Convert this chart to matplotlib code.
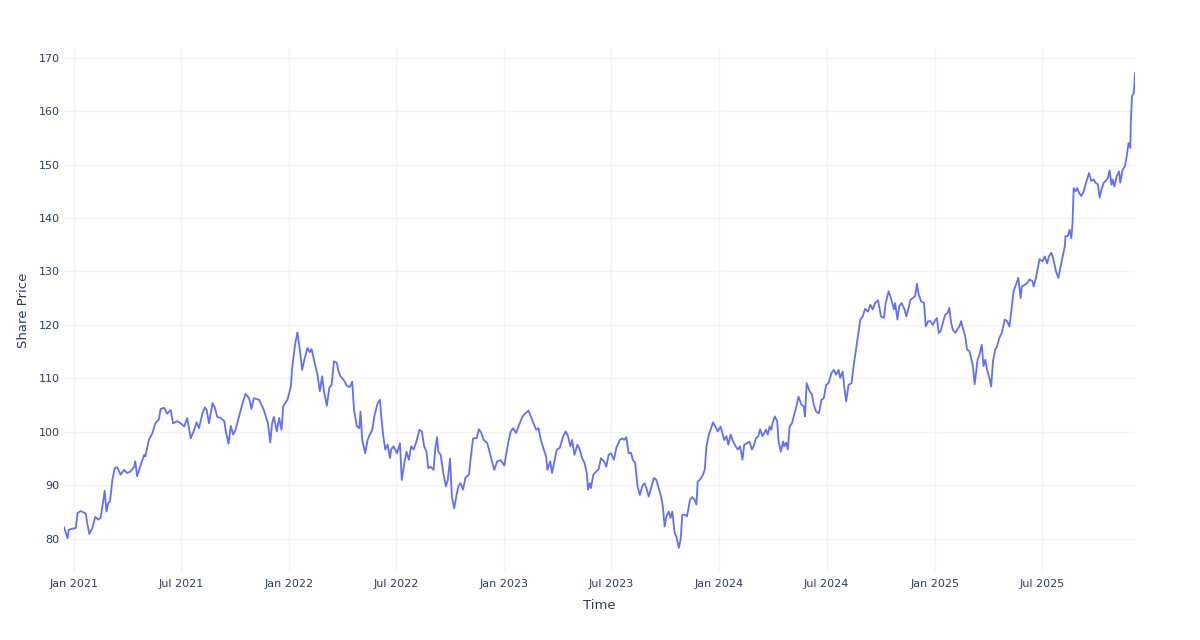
import matplotlib
matplotlib.use("Agg")
import matplotlib.pyplot as plt
import matplotlib.dates as mdates
import numpy as np
import pandas as pd

# Share price readings (irregular spacing)
dates = [
    "2020-12-15", "2020-12-21", "2020-12-23", "2020-12-29", "2021-01-04", "2021-01-07",
    "2021-01-12", "2021-01-18", "2021-01-21", "2021-01-23", "2021-01-27", "2021-02-01",
    "2021-02-06", "2021-02-11", "2021-02-15", "2021-02-19", "2021-02-22", "2021-02-25",
    "2021-02-28", "2021-03-03", "2021-03-07", "2021-03-11", "2021-03-15", "2021-03-21",
    "2021-03-27", "2021-04-01", "2021-04-07", "2021-04-13", "2021-04-15", "2021-04-18",
    "2021-04-24", "2021-04-30", "2021-05-02", "2021-05-08", "2021-05-14", "2021-05-19",
    "2021-05-25", "2021-05-28", "2021-06-03", "2021-06-08", "2021-06-14", "2021-06-18",
    "2021-06-25", "2021-07-01", "2021-07-07", "2021-07-12", "2021-07-18", "2021-07-24",
    "2021-07-28", "2021-08-01",
    "2021-08-07", "2021-08-11", "2021-08-14", "2021-08-18", "2021-08-24", "2021-08-28",
    "2021-09-01", "2021-09-07", "2021-09-13", "2021-09-15", "2021-09-20", "2021-09-24",
    "2021-09-28", "2021-10-02", "2021-10-08", "2021-10-14", "2021-10-19", "2021-10-25",
    "2021-10-29", "2021-11-02", "2021-11-11", "2021-11-19", "2021-11-26", "2021-11-30",
    "2021-12-03", "2021-12-06", "2021-12-11", "2021-12-15", "2021-12-19", "2021-12-22",
    "2021-12-29", "2022-01-04", "2022-01-06", "2022-01-11", "2022-01-15", "2022-01-19",
    "2022-01-23", "2022-01-27", "2022-02-01", "2022-02-05", "2022-02-08", "2022-02-12",
    "2022-02-18", "2022-02-22", "2022-02-26", "2022-03-01", "2022-03-06", "2022-03-10",
    "2022-03-14", "2022-03-18", "2022-03-23", "2022-03-25", "2022-03-29", "2022-04-03",
    "2022-04-09", "2022-04-14", "2022-04-18", "2022-04-21", "2022-04-26", "2022-04-30",
    "2022-05-02", "2022-05-05", "2022-05-10", "2022-05-14", "2022-05-18", "2022-05-22",
    "2022-05-26", "2022-05-31", "2022-06-04", "2022-06-06", "2022-06-09", "2022-06-13",
    "2022-06-17", "2022-06-21", "2022-06-23", "2022-06-27", "2022-07-03", "2022-07-08",
    "2022-07-11", "2022-07-16", "2022-07-19", "2022-07-23", "2022-07-27", "2022-07-31",
    "2022-08-05", "2022-08-10", "2022-08-14", "2022-08-18", "2022-08-22", "2022-08-25",
    "2022-08-29", "2022-09-03", "2022-09-06", "2022-09-09", "2022-09-11", "2022-09-15",
    "2022-09-20", "2022-09-24", "2022-09-27", "2022-10-01", "2022-10-04", "2022-10-08",
    "2022-10-12", "2022-10-15", "2022-10-19", "2022-10-23", "2022-10-27", "2022-11-02",
    "2022-11-05", "2022-11-09", "2022-11-15", "2022-11-19", "2022-11-23", "2022-11-27",
    "2022-12-03", "2022-12-07", "2022-12-11", "2022-12-15", "2022-12-20", "2022-12-26",
    "2023-01-01", "2023-01-04", "2023-01-08", "2023-01-12", "2023-01-16", "2023-01-21",
    "2023-01-26", "2023-02-01", "2023-02-07", "2023-02-11", "2023-02-15", "2023-02-21",
    "2023-02-24", "2023-02-28", "2023-03-04", "2023-03-09", "2023-03-13", "2023-03-15",
    "2023-03-20", "2023-03-23", "2023-03-27", "2023-03-31", "2023-04-05", "2023-04-11",
    "2023-04-15", "2023-04-19", "2023-04-23", "2023-04-26", "2023-04-30", "2023-05-05",
    "2023-05-09", "2023-05-13", "2023-05-17", "2023-05-21", "2023-05-23", "2023-05-26",
    "2023-05-28", "2023-06-01", "2023-06-06", "2023-06-10", "2023-06-14", "2023-06-19",
    "2023-06-23", "2023-06-27", "2023-07-01", "2023-07-06", "2023-07-10", "2023-07-16",
    "2023-07-20", "2023-07-23", "2023-07-27", "2023-07-31", "2023-08-04", "2023-08-07",
    "2023-08-11", "2023-08-15", "2023-08-19", "2023-08-23", "2023-08-27", "2023-08-30",
    "2023-09-03", "2023-09-07", "2023-09-12", "2023-09-16", "2023-09-20", "2023-09-24",
    "2023-09-27", "2023-09-30", "2023-10-03", "2023-10-07", "2023-10-10", "2023-10-13",
    "2023-10-17", "2023-10-20", "2023-10-24", "2023-10-27", "2023-10-30", "2023-11-03",
    "2023-11-07", "2023-11-12", "2023-11-16", "2023-11-20", "2023-11-23", "2023-11-25",
    "2023-11-30", "2023-12-04", "2023-12-07", "2023-12-10", "2023-12-14", "2023-12-18",
    "2023-12-21", "2023-12-25", "2023-12-29", "2024-01-03", "2024-01-09", "2024-01-13",
    "2024-01-16", "2024-01-20", "2024-01-23", "2024-01-27", "2024-02-01", "2024-02-05",
    "2024-02-09", "2024-02-12", "2024-02-17", "2024-02-21", "2024-02-25", "2024-02-28",
    "2024-03-03", "2024-03-07", "2024-03-10", "2024-03-14", "2024-03-17", "2024-03-20",
    "2024-03-23", "2024-03-26", "2024-03-29", "2024-03-31", "2024-04-04", "2024-04-08",
    "2024-04-10", "2024-04-14", "2024-04-18", "2024-04-20", "2024-04-23", "2024-04-26",
    "2024-04-29", "2024-05-03", "2024-05-06", "2024-05-10", "2024-05-14", "2024-05-19",
    "2024-05-23", "2024-05-25", "2024-05-28", "2024-06-02", "2024-06-06", "2024-06-09",
    "2024-06-13", "2024-06-18", "2024-06-22", "2024-06-26", "2024-06-30", "2024-07-04",
    "2024-07-09", "2024-07-13", "2024-07-17", "2024-07-21", "2024-07-24", "2024-07-28",
    "2024-07-31", "2024-08-03", "2024-08-07", "2024-08-12", "2024-08-16", "2024-08-20",
    "2024-08-24", "2024-08-27", "2024-08-31", "2024-09-04", "2024-09-09", "2024-09-13",
    "2024-09-17", "2024-09-21", "2024-09-26", "2024-09-28", "2024-10-01", "2024-10-06",
    "2024-10-09", "2024-10-14", "2024-10-18", "2024-10-23", "2024-10-25", "2024-10-29",
    "2024-11-01", "2024-11-05", "2024-11-10", "2024-11-13", "2024-11-17", "2024-11-20",
    "2024-11-24", "2024-11-28", "2024-12-01", "2024-12-04", "2024-12-08", "2024-12-13",
    "2024-12-16", "2024-12-20", "2024-12-24", "2024-12-28", "2024-12-31", "2025-01-04",
    "2025-01-07", "2025-01-10", "2025-01-14", "2025-01-18", "2025-01-22", "2025-01-25",
    "2025-01-28", "2025-01-31", "2025-02-04", "2025-02-07", "2025-02-11", "2025-02-14",
    "2025-02-17", "2025-02-21", "2025-02-24", "2025-02-28", "2025-03-03", "2025-03-06",
    "2025-03-09", "2025-03-12", "2025-03-14", "2025-03-17", "2025-03-21", "2025-03-24",
    "2025-03-27", "2025-03-30", "2025-04-03", "2025-04-06", "2025-04-09", "2025-04-13",
    "2025-04-16", "2025-04-20", "2025-04-24", "2025-04-29", "2025-05-03", "2025-05-07",
    "2025-05-11", "2025-05-14", "2025-05-18", "2025-05-22", "2025-05-26", "2025-05-28",
    "2025-06-02", "2025-06-06", "2025-06-10", "2025-06-15", "2025-06-17", "2025-06-21",
    "2025-06-23", "2025-06-27", "2025-07-02", "2025-07-06", "2025-07-10", "2025-07-13",
    "2025-07-17", "2025-07-20", "2025-07-25", "2025-07-29", "2025-08-02", "2025-08-06",
    "2025-08-09", "2025-08-10", "2025-08-14", "2025-08-17", "2025-08-20", "2025-08-22",
    "2025-08-24", "2025-08-27", "2025-08-30", "2025-09-02", "2025-09-06", "2025-09-10",
    "2025-09-14", "2025-09-19", "2025-09-23", "2025-09-27", "2025-09-30", "2025-10-04",
    "2025-10-07", "2025-10-10", "2025-10-14", "2025-10-17", "2025-10-21", "2025-10-24",
    "2025-10-27", "2025-10-29", "2025-11-01", "2025-11-05", "2025-11-09", "2025-11-11",
    "2025-11-15", "2025-11-19", "2025-11-22", "2025-11-25", "2025-11-28", "2025-11-29",
    "2025-12-01", "2025-12-04", "2025-12-06",
]

prices = [
    82.2, 80.1, 81.7, 81.9, 82.0, 84.8,
    85.2, 84.9, 84.7, 83.2, 80.9, 82.0,
    84.1, 83.6, 83.9, 86.7, 89.0, 85.1,
    86.7, 87.0, 91.0, 93.2, 93.4, 92.0,
    92.9, 92.3, 92.6, 93.5, 94.5, 91.7,
    93.8, 95.7, 95.4, 98.5, 99.8, 101.6,
    102.4, 104.3, 104.5, 103.4, 104.1, 101.6,
    102.0, 101.6, 101.0, 102.6, 98.8, 100.4,
    101.8, 100.7,
    103.5, 104.6, 104.1, 101.6, 105.4, 104.5,
    102.8, 102.6, 102.0, 100.4, 97.8, 101.1,
    99.5, 100.4, 102.9, 105.4, 107.1, 106.3,
    104.3, 106.3, 106.0, 104.1, 101.6, 98.0,
    101.6, 102.8, 100.1, 102.6, 100.4, 104.8,
    106.0, 108.5, 111.9, 116.3, 118.6, 115.4,
    111.6, 113.6, 115.7, 114.9, 115.5, 113.5,
    110.7, 107.6, 110.4, 107.6, 104.9, 108.2,
    108.8, 113.2, 112.9, 111.6, 110.4, 109.8,
    108.6, 108.4, 109.4, 104.1, 101.0, 100.7,
    103.8, 98.5, 96.0, 98.5, 99.5, 100.4,
    103.2, 105.3, 106.0, 103.2, 99.8, 96.7,
    97.6, 95.1, 96.7, 97.3, 96.0, 97.9,
    91.0, 94.5, 96.3, 94.8, 97.3, 96.7,
    98.2, 100.4, 100.1, 97.3, 96.3, 93.2,
    93.5, 92.9, 97.0, 99.0, 96.3, 95.7,
    92.0, 89.8, 91.0, 95.0, 87.9, 85.7,
    88.2, 89.8, 90.4, 89.2, 91.4, 92.0,
    95.1, 98.8, 98.8, 100.5, 99.8, 98.5,
    97.9, 96.3, 94.5, 92.9, 94.5, 94.7,
    93.7, 95.7, 98.2, 100.1, 100.7, 99.8,
    101.3, 102.9, 103.6, 104.0, 102.9, 101.3,
    100.4, 100.7, 98.5, 96.7, 95.4, 92.9,
    94.5, 92.3, 94.5, 96.7, 97.0, 99.2,
    100.1, 99.2, 97.3, 98.5, 95.7, 97.6,
    96.7, 95.1, 94.2, 92.3, 89.2, 90.4,
    89.5, 92.0, 92.6, 93.0, 95.1, 94.5,
    93.5, 95.7, 96.0, 94.8, 97.0, 98.5,
    98.8, 98.5, 99.0, 96.0, 96.1, 94.8,
    94.2, 89.8, 88.2, 89.8, 90.4, 89.5,
    87.9, 89.5, 91.4, 91.0, 89.5, 87.9,
    86.0, 82.3, 84.2, 85.1, 83.9, 85.1,
    81.1, 80.4, 78.3, 79.8, 84.5, 84.5,
    84.2, 87.3, 87.8, 87.3, 86.4, 90.7,
    91.2, 92.0, 92.9, 97.3, 99.5, 100.7,
    101.8, 101.0, 100.1, 101.0, 98.5, 99.2,
    97.6, 99.5, 98.5, 97.6, 96.7, 97.3,
    94.8, 97.6, 97.9, 98.2, 96.7, 97.3,
    98.8, 99.2, 100.5, 99.2, 99.8, 100.4,
    99.5, 101.0, 100.4, 101.6, 102.9, 102.0,
    98.5, 96.3, 98.2, 97.3, 98.0, 96.7,
    101.0, 101.6, 102.9, 104.5, 106.6, 105.1,
    104.8, 102.9, 109.1, 107.6, 107.0, 105.1,
    103.8, 103.5, 106.0, 106.3, 108.8, 109.1,
    111.0, 111.6, 110.7, 111.6, 110.1, 111.3,
    108.2, 105.7, 108.8, 109.1, 112.6, 115.7,
    118.8, 121.0, 121.6, 123.0, 122.5, 123.8,
    122.9, 124.1, 124.6, 123.5, 121.6, 121.3,
    124.1, 126.3, 125.0, 122.9, 124.1, 121.0,
    123.5, 124.1, 122.9, 121.6, 123.2, 124.7,
    125.0, 125.4, 127.7, 125.7, 124.4, 124.1,
    119.7, 120.7, 120.7, 120.0, 120.7, 121.3,
    118.5, 118.8, 120.4, 121.9, 122.2, 123.2,
    120.4, 119.1, 118.5, 119.1, 119.7, 120.7,
    119.4, 117.9, 115.4, 115.1, 113.8, 112.3,
    108.9, 111.6, 113.5, 114.4, 116.3, 112.3,
    113.5, 111.6, 110.1, 108.5, 113.2, 115.4,
    116.0, 117.6, 118.5, 121.0, 120.7, 119.7,
    123.5, 126.3, 127.5, 128.8, 125.0, 127.2,
    127.5, 127.8, 128.5, 128.2, 127.2, 128.8,
    130.0, 132.3, 131.9, 132.8, 131.5, 132.8,
    133.5, 132.5, 130.0, 128.8, 131.0, 133.2,
    134.7, 136.6, 136.6, 137.8, 136.2, 139.1,
    145.6, 145.0, 145.6, 144.7, 144.1, 145.0,
    146.6, 148.4, 146.9, 147.2, 146.6, 146.3,
    143.8, 145.3, 146.6, 146.9, 147.5, 148.9,
    146.2, 147.2, 145.9, 147.8, 148.7, 146.6,
    149.0, 149.7, 151.6, 154.0, 153.1, 158.4,
    162.8, 163.4, 167.1,
]

x_ticks = ["2021-01-01", "2021-07-01", "2022-01-01", "2022-07-01", "2023-01-01",
           "2023-07-01", "2024-01-01", "2024-07-01", "2025-01-01", "2025-07-01"]
y_ticks = [80, 90, 100, 110, 120, 130, 140, 150, 160, 170]

TEXT = "#2a3f5f"
GRID = "#f1f3f8"
LINE = "#636efa"

plt.rcParams["font.family"] = ["DejaVu Sans"]

x = pd.to_datetime(dates)
y = np.array(prices)

fig = plt.figure(figsize=(12, 6.4), dpi=100)
ax = fig.add_axes([64 / 1200, 1 - 572 / 640, (1135 - 64) / 1200, (572 - 49) / 640])
ax.plot(x, y, color=LINE, linewidth=1.3, solid_joinstyle="round")

ax.set_xlim(x[0], x[-1])
ax.set_ylim(73.8, 171.6)

xt = pd.to_datetime(x_ticks)
ax.set_xticks(xt)
ax.xaxis.set_major_formatter(mdates.DateFormatter("%b %Y"))
ax.set_yticks(y_ticks)

ax.grid(True, color=GRID, linewidth=1.0)
ax.set_axisbelow(True)
for s in ax.spines.values():
    s.set_visible(False)
ax.tick_params(axis="both", length=0, colors=TEXT, labelsize=8)
ax.tick_params(axis="x", pad=5)
ax.tick_params(axis="y", pad=3)

ax.set_xlabel("Time", color=TEXT, fontsize=9.5, labelpad=7)
ax.set_ylabel("Share Price", color=TEXT, fontsize=9.5, labelpad=6)

fig.savefig("out.png", dpi=100, facecolor="white")
